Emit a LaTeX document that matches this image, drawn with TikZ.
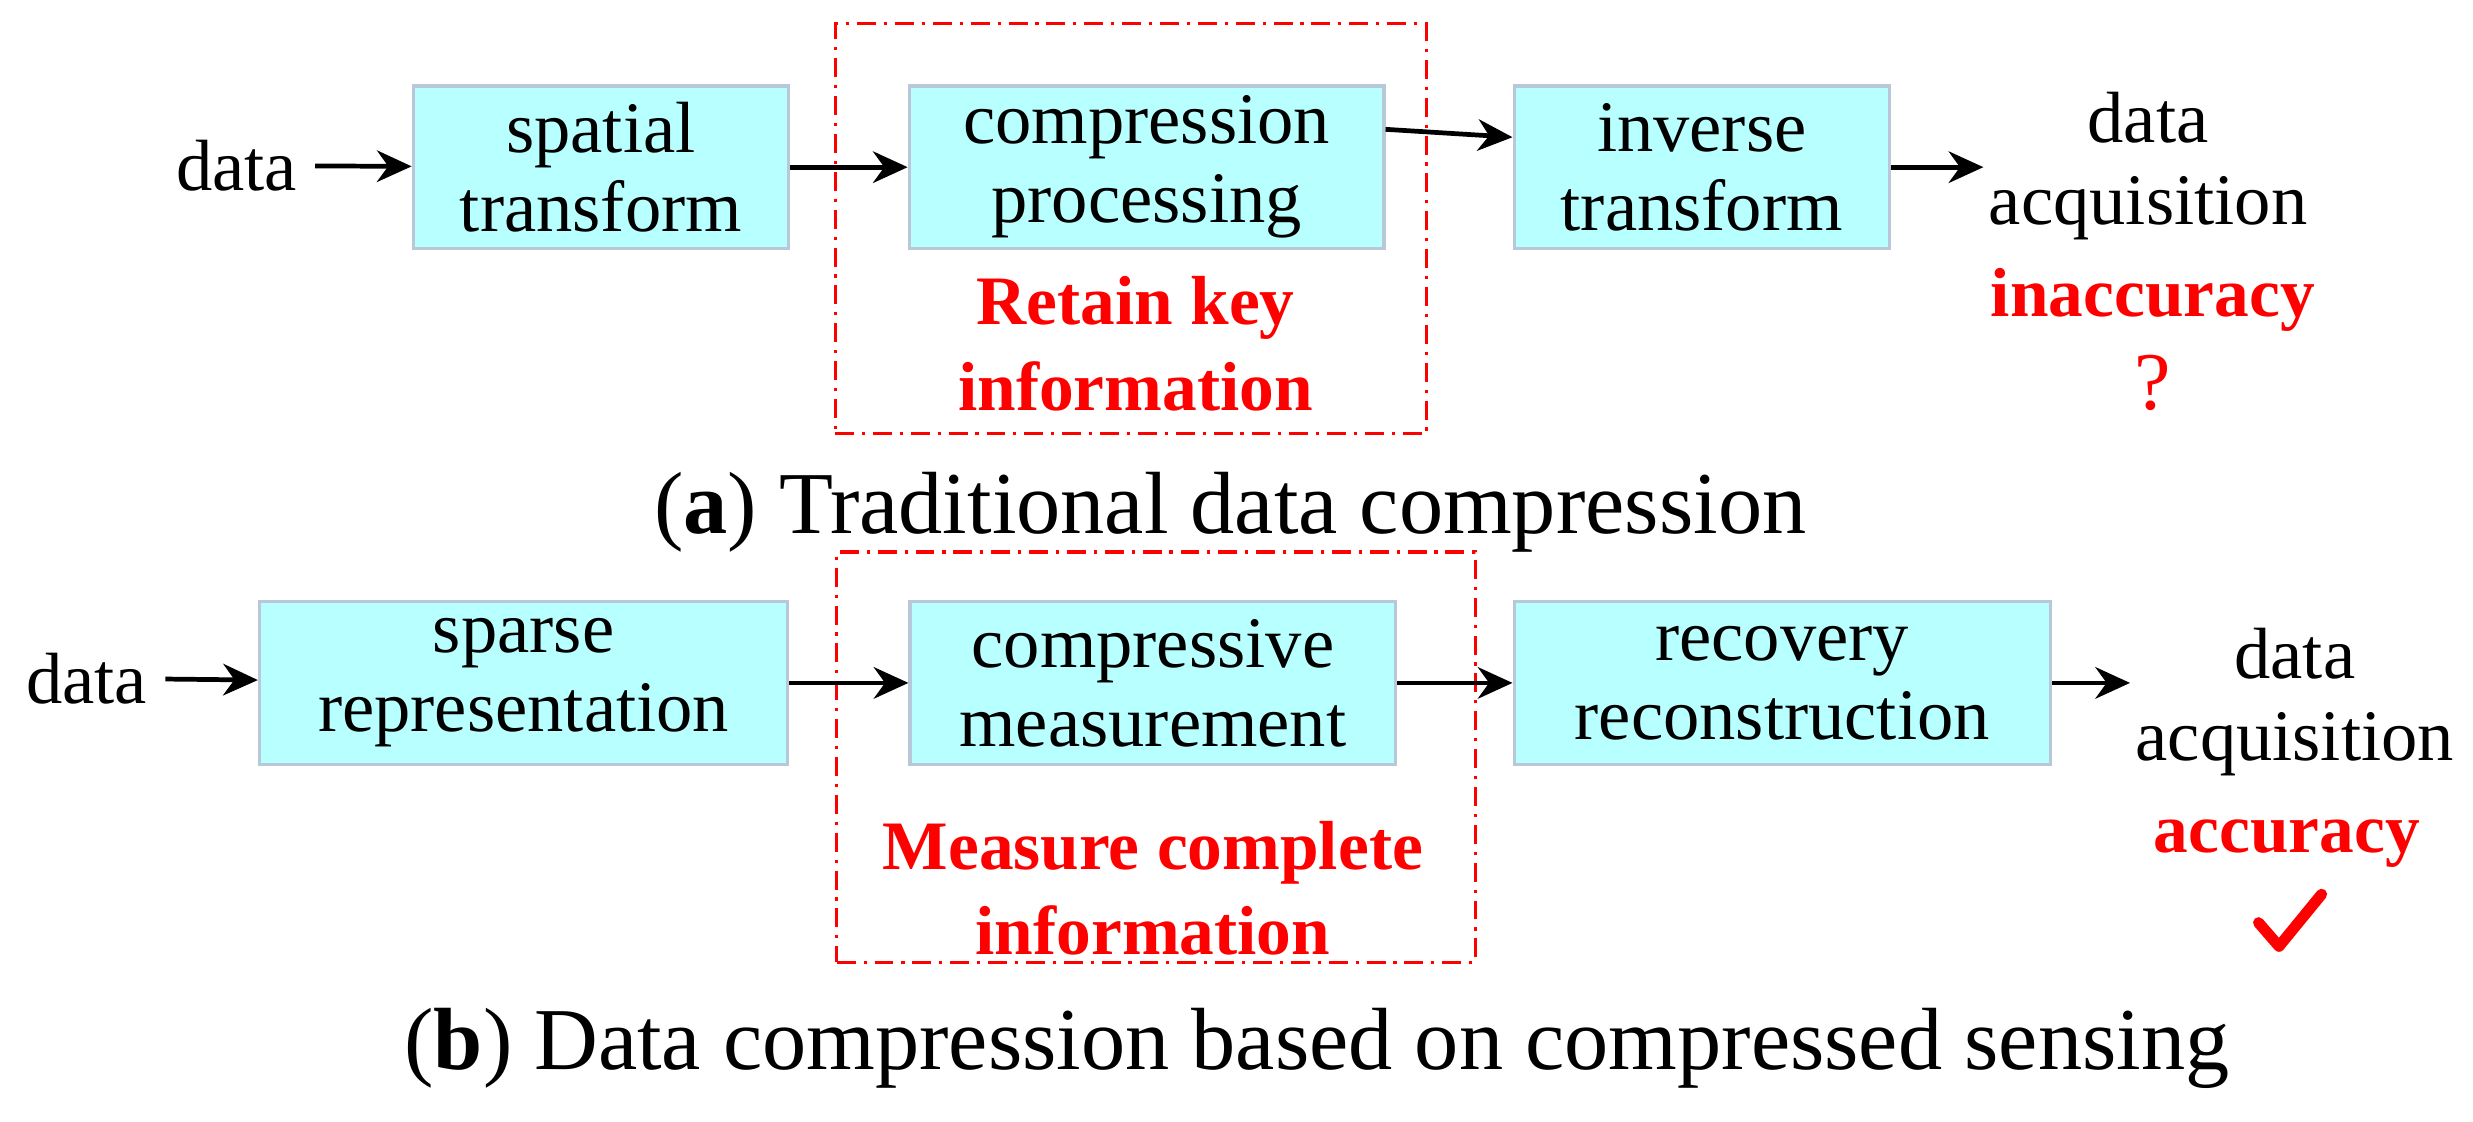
\documentclass[tikz,border=0pt]{standalone}
\usepackage{fontspec}
\setmainfont{Liberation Serif}
\usetikzlibrary{arrows.meta,calc}
\definecolor{boxfill}{HTML}{B8FFFF}
\definecolor{boxline}{HTML}{B8C8D8}
\definecolor{myred}{HTML}{FF0000}
\begin{document}
\begin{tikzpicture}[x=1pt,y=-1pt,
  blk/.style={draw=boxline,line width=2pt,fill=boxfill,align=center,inner sep=0pt,font=\fontsize{46}{50}\selectfont},
  lbl/.style={align=center,font=\fontsize{46}{52}\selectfont},
  redl/.style={align=center,text=myred,font=\fontsize{44}{54}\selectfont\bfseries},
  arr/.style={-{Stealth[length=22pt,width=20pt]},line width=3pt},
  frame/.style={draw=myred,line width=2pt,dash pattern=on 12pt off 5pt on 2pt off 5pt}]
\useasboundingbox (0,0) rectangle (1568,711);
% row a
\node[frame,minimum width=375pt,minimum height=260pt] (fa) at (717,145) {};
\node[lbl] (d1) at (150,105) {data};
\node[blk,minimum width=238pt,minimum height=103pt] (a1) at (381,106) {spatial\\transform};
\node[blk,minimum width=301pt,minimum height=103pt] (a2) at (727,106) {compression\\processing};
\node[blk,minimum width=238pt,minimum height=103pt] (a3) at (1079,106) {inverse\\transform};
\node[lbl] (o1) at (1362,105) {data\\acquisition};
\node[redl] (r1) at (720,218) {Retain key\\information};
\node[redl] (i1) at (1365,190) {inaccuracy};
\node[text=myred,font=\fontsize{52}{50}\selectfont] (q1) at (1365,243) {?};
\draw[arr,shorten <=8pt] (d1) -- (a1);
\draw[arr] (a1) -- (a2);
\draw[arr] ($(a2.east)+(0,24pt)$) -- ($(a3.west)+(0,19pt)$);
\draw[arr] (a3) -- (o1.west |- a3);
\node[lbl,font=\fontsize{56}{60}\selectfont] (ca) at (780,325) {(\textbf{a}) Traditional data compression};
% row b
\node[frame,minimum width=405pt,minimum height=260pt] (fb) at (733,480) {};
\node[lbl] (d2) at (55,430) {data};
\node[blk,minimum width=335pt,minimum height=103pt] (b1) at (332,433) {sparse\\representation};
\node[blk,minimum width=308pt,minimum height=103pt] (b2) at (731,433) {compressive\\measurement};
\node[blk,minimum width=340pt,minimum height=103pt] (b3) at (1130,433) {recovery\\reconstruction};
\node[lbl] (o2) at (1455,445) {data\\acquisition};
\node[redl] (r2) at (731,563) {Measure complete\\information};
\node[redl] (i2) at (1450,535) {accuracy};
\draw[myred,line width=7pt,line cap=round,line join=round] (1432,585) -- (1445,600) -- (1472,567);
\draw[arr,shorten <=8pt] (d2) -- (b1);
\draw[arr] (b1) -- (b2);
\draw[arr] (b2) -- (b3);
\draw[arr] (b3) -- (o2.west |- b3);
\node[lbl,font=\fontsize{56}{60}\selectfont] (cb) at (835,665) {(\textbf{b}) Data compression based on compressed sensing};
\end{tikzpicture}
\end{document}
